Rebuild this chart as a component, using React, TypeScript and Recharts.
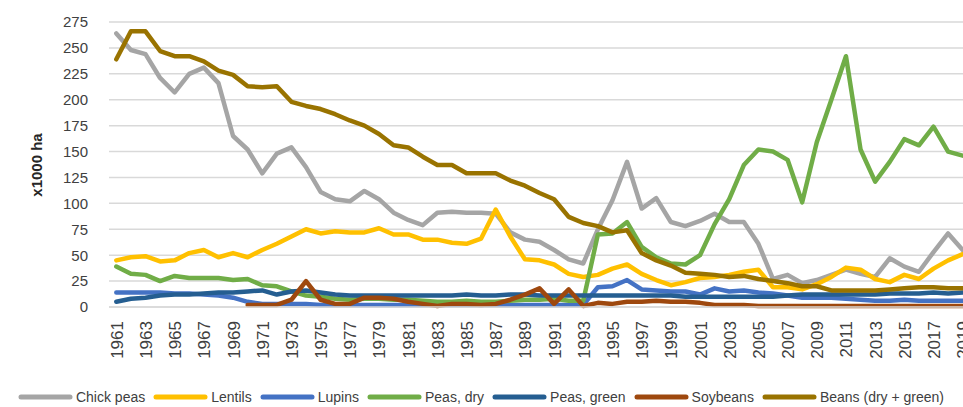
import { LineChart, Line, XAxis, YAxis, CartesianGrid, Legend, Label } from 'recharts';

const years = [
  '1961','1962','1963','1964','1965','1966','1967','1968','1969','1970',
  '1971','1972','1973','1974','1975','1976','1977','1978','1979','1980',
  '1981','1982','1983','1984','1985','1986','1987','1988','1989','1990',
  '1991','1992','1993','1994','1995','1996','1997','1998','1999','2000',
  '2001','2002','2003','2004','2005','2006','2007','2008','2009','2010',
  '2011','2012','2013','2014','2015','2016','2017','2018','2019',
];

const chickPeas = [
  264,248,244,221,207,225,231,216,165,152,
  129,148,154,135,111,104,102,112,104,91,
  84,79,91,92,91,91,90,72,65,63,
  55,46,42,75,103,140,95,105,82,78,
  83,90,82,82,61,27,31,23,26,31,
  36,32,29,47,39,34,53,71,55,
];
const lentils = [
  45,48,49,44,45,52,55,48,52,48,
  55,61,68,75,71,73,72,72,76,70,
  70,65,65,62,61,66,94,68,46,45,
  41,32,29,31,37,41,32,26,21,24,
  28,29,31,34,36,19,19,17,22,29,
  38,36,27,24,31,27,37,45,51,
];
const lupins = [
  14,14,14,14,13,13,12,11,9,5,
  3,3,3,3,2,2,2,2,2,2,
  2,2,2,2,2,2,2,2,2,2,
  2,2,2,19,20,26,17,16,15,15,
  12,18,15,16,14,13,11,9,9,9,
  8,7,6,6,7,6,6,6,6,
];
const peasDry = [
  39,32,31,25,30,28,28,28,26,27,
  21,20,15,11,10,8,7,8,8,7,
  7,6,5,5,6,5,5,6,7,7,
  8,6,6,70,71,82,58,48,42,41,
  50,80,104,137,152,150,142,101,159,200,
  242,152,121,140,162,156,174,150,146,
];
const peasGreen = [
  5,8,9,11,12,12,13,14,14,15,
  16,12,15,16,14,12,11,11,11,11,
  11,11,11,11,12,11,11,12,12,11,
  11,11,11,11,11,11,11,11,11,10,
  10,10,10,10,10,10,11,12,12,12,
  12,12,12,13,13,13,14,13,14,
];
const soybeans = [
  null,null,null,null,null,null,null,null,null,2,
  2,2,7,25,7,3,3,9,9,8,
  5,3,1,3,3,2,3,7,12,18,
  3,17,1,4,3,5,5,6,5,5,
  4,2,2,2,1,1,1,1,1,1,
  1,1,1,1,1,1,1,1,1,
];
const beans = [
  239,266,266,247,242,242,237,228,224,213,
  212,213,198,194,191,186,180,175,167,156,
  154,145,137,137,129,129,129,122,117,110,
  104,87,81,78,72,74,52,45,40,33,
  32,31,29,30,27,25,23,20,20,16,
  16,16,16,17,18,19,19,18,18,
];

const yTicks = [0, 25, 50, 75, 100, 125, 150, 175, 200, 225, 250, 275];

const series = [
  { key: 'chick', name: 'Chick peas', color: '#A5A5A5', values: chickPeas },
  { key: 'lentils', name: 'Lentils', color: '#FFC000', values: lentils },
  { key: 'lupins', name: 'Lupins', color: '#4472C4', values: lupins },
  { key: 'peasDry', name: 'Peas, dry', color: '#70AD47', values: peasDry },
  { key: 'peasGreen', name: 'Peas, green', color: '#255E91', values: peasGreen },
  { key: 'soy', name: 'Soybeans', color: '#9E480E', values: soybeans },
  { key: 'beans', name: 'Beans (dry + green)', color: '#997300', values: beans },
];

const data = years.map((year, i) => {
  const row: Record<string, string | number | null> = { year };
  series.forEach(s => { row[s.key] = s.values[i]; });
  return row;
});

const font = "'Liberation Sans', Arial, sans-serif";

const YearTick = ({ x, y, payload }: any) => (
  <text
    x={x + 1} y={y + 6}
    transform={`rotate(-90 ${x + 1} ${y + 6})`}
    textAnchor="end"
    dominantBaseline="central"
    fontSize={17}
    fontFamily={font}
    fill="#404040"
  >
    {payload.value}
  </text>
);

const LegendBox = () => (
  <div style={{ display: 'flex', justifyContent: 'center', alignItems: 'center', height: 20, fontFamily: font, fontSize: 14, color: '#404040' }}>
    {series.map(s => (
      <div key={s.key} style={{ display: 'flex', alignItems: 'center', marginRight: 8 }}>
        <svg width={55} height={8} style={{ marginRight: 3 }}>
          <line x1={3} y1={4} x2={52} y2={4} stroke={s.color} strokeWidth={5} strokeLinecap="round" />
        </svg>
        <span>{s.name}</span>
      </div>
    ))}
  </div>
);

export default function App() {
  return (
    <div style={{ position: 'absolute', left: 0, top: 0, width: 963, height: 407, overflow: 'hidden', background: '#fff' }}>
      <LineChart width={980} height={407} data={data} margin={{ top: 22, right: 10, left: 0, bottom: 0 }}>
        <CartesianGrid vertical={false} stroke="#d9d9d9" strokeWidth={1.5} />
        <XAxis
          dataKey="year"
          interval={1}
          padding={{ left: 7.3, right: 7.3 }}
          height={80}
          tickLine={false}
          axisLine={{ stroke: '#d9d9d9', strokeWidth: 1.5 }}
          tick={<YearTick />}
        />
        <YAxis
          domain={[0, 275]}
          ticks={yTicks}
          width={109}
          axisLine={false}
          tickLine={false}
          tickMargin={15}
          tick={{ fontSize: 15, fontFamily: font, fill: '#404040' }}
        >
          <Label
            content={() => (
              <text x={36} y={165} transform="rotate(-90 36 165)" textAnchor="middle" dominantBaseline="central"
                fontSize={15} fontWeight={700} fontFamily={font} fill="#262626">
                x1000 ha
              </text>
            )}
          />
        </YAxis>
        <Legend verticalAlign="bottom" content={<LegendBox />} />
        {series.map(s => (
          <Line
            key={s.key}
            type="linear"
            dataKey={s.key}
            name={s.name}
            stroke={s.color}
            strokeWidth={4.5}
            strokeLinejoin="round"
            strokeLinecap="round"
            dot={false}
            isAnimationActive={false}
          />
        ))}
      </LineChart>
    </div>
  );
}
